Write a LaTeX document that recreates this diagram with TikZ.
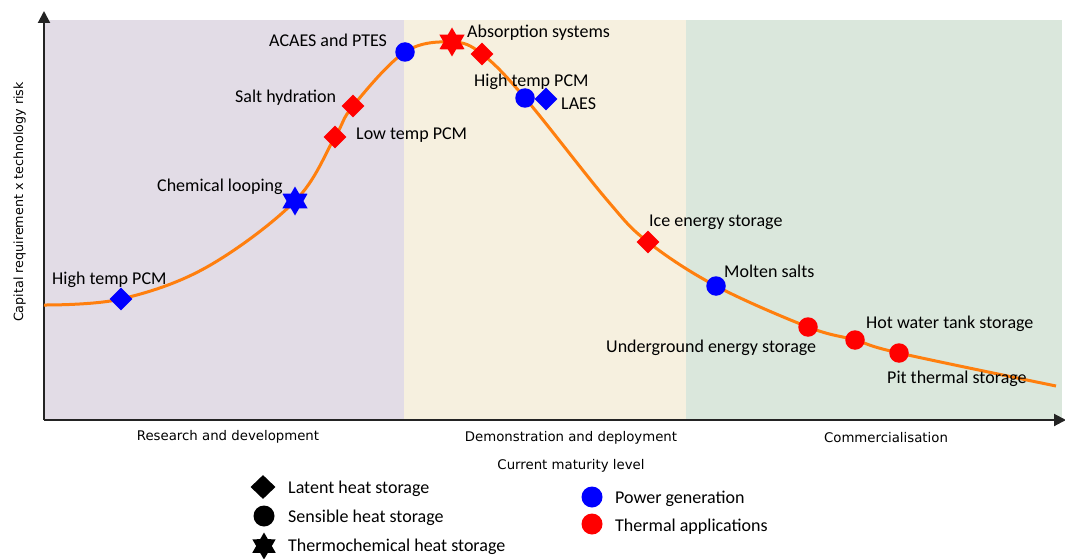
\documentclass[tikz,border=0pt]{standalone}
\usepackage{fontspec}
\setmainfont{Carlito}
\newfontfamily\axisfont{DejaVu Sans}
\usetikzlibrary{shapes.geometric,arrows.meta}
\definecolor{bandpurple}{RGB}{226,220,230}
\definecolor{bandbeige}{RGB}{246,240,223}
\definecolor{bandgreen}{RGB}{218,231,220}
\definecolor{curveorange}{RGB}{255,127,14}
\definecolor{axisgray}{RGB}{35,35,35}
\definecolor{mkblue}{RGB}{0,0,255}
\definecolor{mkred}{RGB}{255,0,0}
\tikzset{
  dia/.style={diamond, minimum width=23pt, minimum height=23pt, inner sep=0pt},
  circ/.style={circle, minimum size=19.5pt, inner sep=0pt},
  hexa/.style={star, star points=6, star point ratio=1.73, minimum size=29pt, inner sep=0pt},
  lbl/.style={anchor=west, inner sep=0pt, yshift=-2pt, font=\fontsize{18}{20}\selectfont},
  axlbl/.style={inner sep=0pt, yshift=-1.5pt, font=\axisfont\fontsize{13.3}{15}\selectfont},
  axisline/.style={draw=axisgray, line width=2pt, -{Triangle[width=12pt,length=12pt]}},
}
\begin{document}
\begin{tikzpicture}[x=1pt,y=-1pt]
\useasboundingbox (0,0) rectangle (1065,559);
% bands
\fill[bandpurple] (44,20) rectangle (404,419);
\fill[bandbeige] (404,20) rectangle (686,419);
\fill[bandgreen] (686,20) rectangle (1062,419);
% axes
\coordinate (o) at (44,420);
\coordinate (ytip) at (44,11);
\coordinate (xtip) at (1066,420);
\draw[axisline] (o) -- (ytip);
\draw[axisline] (o) -- (xtip);
% curve points
\coordinate (c0) at (44,305);
\coordinate (c1) at (121,299);
\coordinate (c2) at (207,267);
\coordinate (c3) at (295,201);
\coordinate (c4) at (335,137);
\coordinate (c5) at (353,106);
\coordinate (c6) at (405,52);
\coordinate (c7) at (452,42);
\coordinate (c8) at (482,54);
\coordinate (c9) at (525,98);
\coordinate (c10) at (607,200);
\coordinate (c11) at (648,242);
\coordinate (c12) at (716,286);
\coordinate (c13) at (808,327);
\coordinate (c14) at (855,340);
\coordinate (c15) at (899,353);
\coordinate (c16) at (1056,386);
\draw[curveorange, line width=3pt] plot[smooth, tension=0.6] coordinates {(c0) (c1) (c2) (c3) (c4) (c5) (c6) (c7) (c8) (c9) (c10) (c11) (c12) (c13) (c14) (c15) (c16)};
% markers
\node[dia, fill=mkblue] (m1) at (c1) {};
\node[hexa, fill=mkblue] (m2) at (c3) {};
\node[dia, fill=mkred] (m3) at (c4) {};
\node[dia, fill=mkred] (m4) at (c5) {};
\node[circ, fill=mkblue] (m5) at (c6) {};
\node[hexa, fill=mkred] (m6) at (c7) {};
\node[dia, fill=mkred] (m7) at (c8) {};
\node[circ, fill=mkblue] (m8) at (c9) {};
\node[dia, fill=mkblue] (m9) at (546,99) {};
\node[dia, fill=mkred] (m10) at (c11) {};
\node[circ, fill=mkblue] (m11) at (c12) {};
\node[circ, fill=mkred] (m12) at (c13) {};
\node[circ, fill=mkred] (m13) at (c14) {};
\node[circ, fill=mkred] (m14) at (c15) {};
% labels
\node[lbl] (l1) at (52,278) {High temp PCM};
\node[lbl] (l2) at (157,185) {Chemical looping};
\node[lbl] (l3) at (235,96) {Salt hydration};
\node[lbl] (l4) at (356,133) {Low temp PCM};
\node[lbl] (l5) at (269,38) {ACAES and PTES};
\node[lbl] (l6) at (467,31) {Absorption systems};
\node[lbl] (l7) at (474,80) {High temp PCM};
\node[lbl] (l8) at (561,102) {LAES};
\node[lbl] (l9) at (649,220) {Ice energy storage};
\node[lbl] (l10) at (724,269) {Molten salts};
\node[lbl] (l11) at (866,322) {Hot water tank storage};
\node[lbl] (l12) at (606,346) {Underground energy storage};
\node[lbl] (l13) at (887,377) {Pit thermal storage};
% axis labels
\node[axlbl] (a1) at (228,435) {Research and development};
\node[axlbl] (a2) at (571,436) {Demonstration and deployment};
\node[axlbl] (a3) at (886,436) {Commercialisation};
\node[axlbl] (a4) at (571,464) {Current maturity level};
\node[inner sep=0pt, font=\axisfont\fontsize{12.7}{15}\selectfont, rotate=90] (a5) at (19.5,202) {Capital requirement x technology risk};
% legend
\node[dia, fill=black, minimum width=25pt, minimum height=24pt] (k1) at (263,487) {};
\node[circ, fill=black, minimum size=21pt] (k2) at (264,516) {};
\node[hexa, fill=black, minimum size=27pt] (k3) at (264,546) {};
\node[lbl] (t1) at (288,487) {Latent heat storage};
\node[lbl] (t2) at (288,516) {Sensible heat storage};
\node[lbl] (t3) at (288,545) {Thermochemical heat storage};
\node[circ, fill=mkblue, minimum size=21pt] (k4) at (592,497) {};
\node[circ, fill=mkred, minimum size=21pt] (k5) at (592,524) {};
\node[lbl] (t4) at (615,497) {Power generation};
\node[lbl] (t5) at (615,525) {Thermal applications};
\end{tikzpicture}
\end{document}
